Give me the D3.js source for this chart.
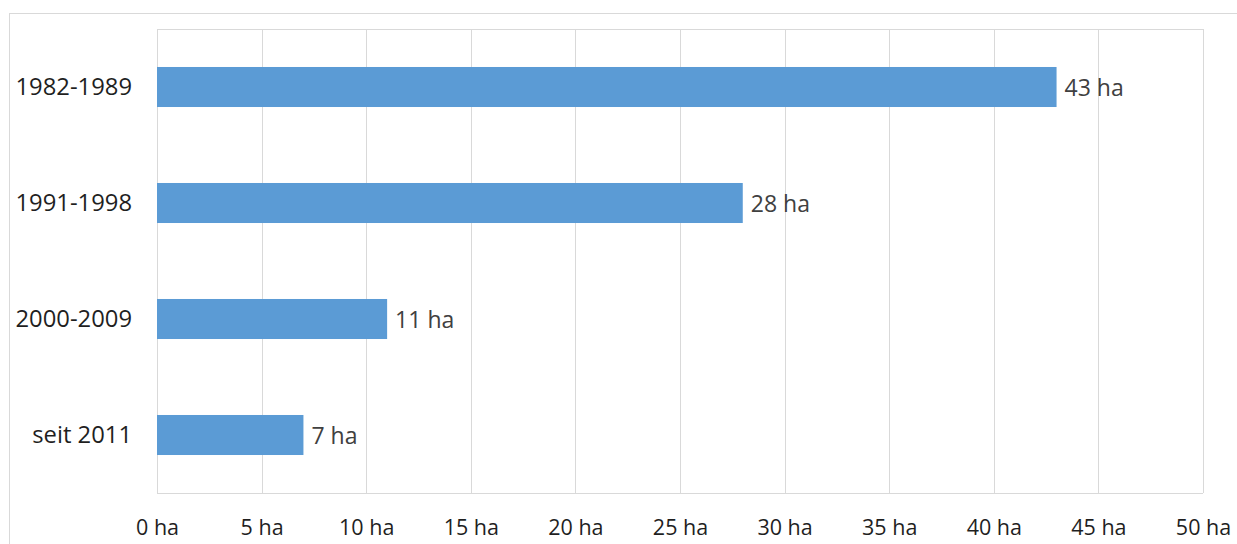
<!DOCTYPE html>
<html>
<head>
<meta charset="utf-8">
<script src="https://cdn.jsdelivr.net/npm/d3@7"></script>
<style>
  html, body { margin: 0; padding: 0; background: #fff; }
  svg { display: block; font-family: "Open Sans", "Segoe UI", sans-serif; }
</style>
</head>
<body>
<svg id="chart" width="1237" height="544"></svg>
<script>
// Zeiträume und Flächen in Hektar
const categories = ["1982-1989", "1991-1998", "2000-2009", "seit 2011"];
const values = [43, 28, 11, 7];
const tickValues = [0, 5, 10, 15, 20, 25, 30, 35, 40, 45, 50];
const unit = " ha";

const svg = d3.select("#chart");
const W = 1237, H = 544;
const plot = { left: 157, top: 29, right: 1203, bottom: 493 };

// outer chart frame (extends past the window at right and bottom)
svg.append("rect")
  .attr("x", 9.5).attr("y", 13.5)
  .attr("width", W).attr("height", H)
  .attr("fill", "none").attr("stroke", "#d9d9d9").attr("stroke-width", 1);

const x = d3.scaleLinear().domain([0, 50]).range([plot.left, plot.right]);
const y = d3.scaleBand().domain(categories)
  .range([plot.top, plot.bottom]).paddingInner(0.655).paddingOuter(0.3275);

// vertical gridlines
svg.append("g").selectAll("line").data(tickValues).join("line")
  .attr("x1", d => Math.round(x(d)) + 0.5).attr("x2", d => Math.round(x(d)) + 0.5)
  .attr("y1", plot.top).attr("y2", plot.bottom)
  .attr("stroke", "#d9d9d9").attr("stroke-width", 1);

// top and bottom edges of plot area
[plot.top, plot.bottom].forEach(yy => {
  svg.append("line")
    .attr("x1", plot.left).attr("x2", plot.right)
    .attr("y1", yy + 0.5).attr("y2", yy + 0.5)
    .attr("stroke", "#d9d9d9").attr("stroke-width", 1);
});

// bars
svg.append("g").selectAll("rect").data(values).join("rect")
  .attr("x", x(0))
  .attr("y", (d, i) => y(categories[i]))
  .attr("width", d => x(d) - x(0))
  .attr("height", y.bandwidth())
  .attr("fill", "#5b9bd5");

// value labels
svg.append("g").selectAll("text").data(values).join("text")
  .attr("x", d => x(d) + 8)
  .attr("y", (d, i) => y(categories[i]) + y.bandwidth() / 2 + 1)
  .attr("dy", "0.35em")
  .attr("font-size", 23)
  .attr("fill", "#404040")
  .text(d => d + unit);

// category axis
const yAxis = d3.axisLeft(y).tickSize(0).tickPadding(25);
const gy = svg.append("g").attr("transform", `translate(${plot.left},0)`).call(yAxis);
gy.select(".domain").remove();
gy.selectAll("text").attr("font-size", 23.8).attr("fill", "#1f1f1f")
  .attr("font-family", "Open Sans, sans-serif");

// value axis
const xAxis = d3.axisBottom(x).tickValues(tickValues).tickSize(0).tickPadding(27)
  .tickFormat(d => d + unit);
const gx = svg.append("g").attr("transform", `translate(0,${plot.bottom})`).call(xAxis);
gx.select(".domain").remove();
gx.selectAll("text").attr("font-size", 21.5).attr("fill", "#1f1f1f")
  .attr("font-family", "Open Sans, sans-serif");
</script>
</body>
</html>
